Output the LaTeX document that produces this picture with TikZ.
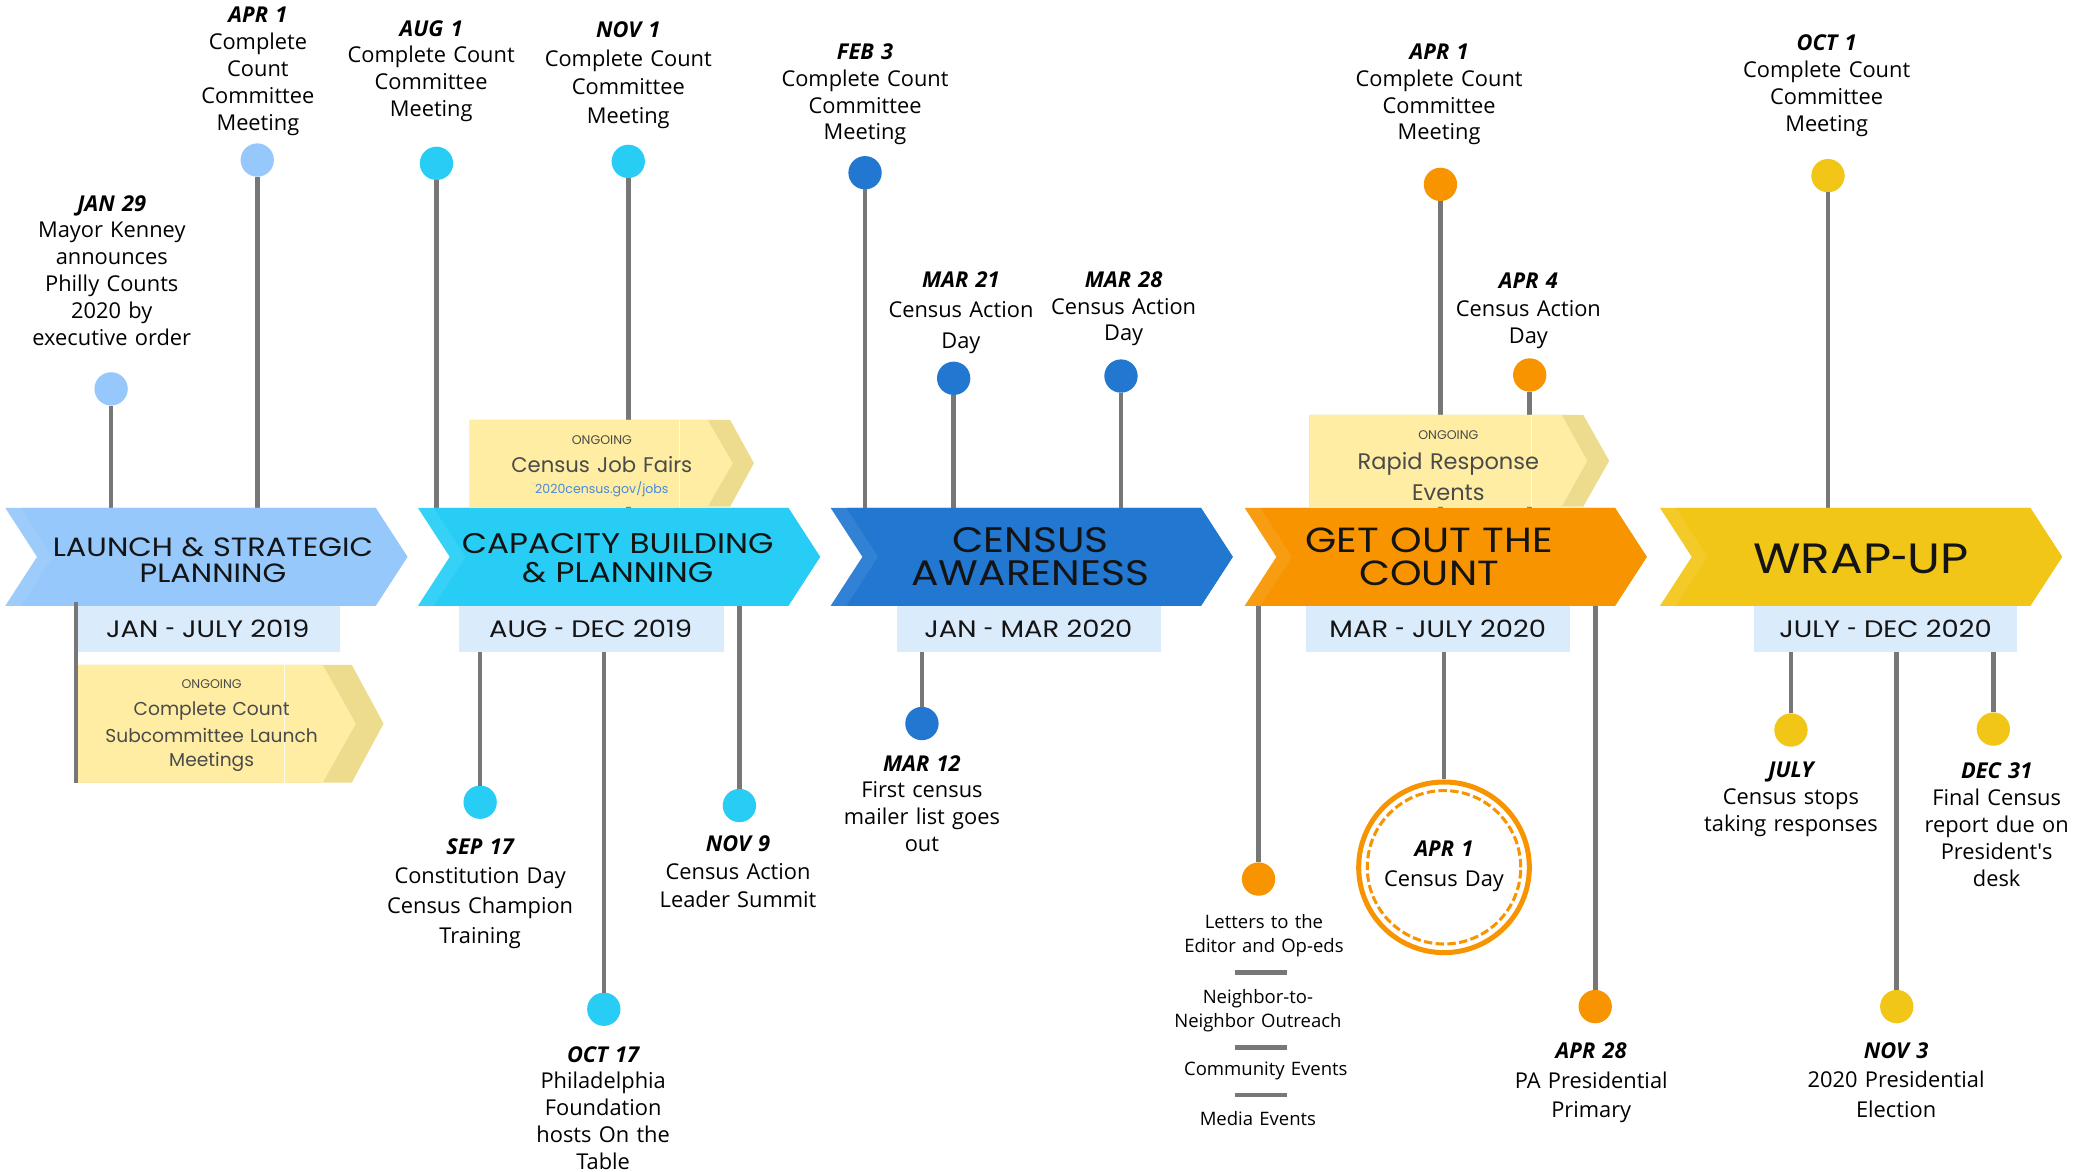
\documentclass[tikz,border=0pt]{standalone}
\usepackage{fontspec}
\setmainfont{Open Sans}
\newfontfamily\popfont{Poppins}
\newfontfamily\popwide{Poppins}[FakeStretch=1.15]
\definecolor{cLight}{HTML}{96C8FB}
\definecolor{cCyan}{HTML}{27CDF5}
\definecolor{cBlue}{HTML}{2277D1}
\definecolor{cOrange}{HTML}{F79400}
\definecolor{cYellow}{HTML}{F2C617}
\definecolor{cDate}{HTML}{DAEBFC}
\definecolor{cOngo}{HTML}{FEEDA2}
\definecolor{cOngoDark}{HTML}{EEDC8E}
\definecolor{cStem}{HTML}{777777}
\definecolor{cOngoText}{HTML}{4A4A4A}
\definecolor{cLink}{HTML}{4A8ADB}
\newcommand\evdate[1]{{\bfseries\itshape #1}\\}
\newcommand\shyph{\scalebox{0.62}[1]{-}}
\newcommand\bannershape[2]{%
  \fill[#2!93!white] (#1,384) -- (#1+280,384) -- (#1+304,421) -- (#1+280,458) -- (#1,458) -- (#1+24,421) -- cycle;
  \fill[#2] (#1+12,384) -- (#1+280,384) -- (#1+304,421) -- (#1+280,458) -- (#1+12,458) -- (#1+36,421) -- cycle;}
% ongoing box: L, T, B, M, light top-right, light tip, dark top-right, dark tip, seam
\newcommand\ongoingbox[9]{%
  \fill[cOngoDark] (#1,#2) -- (#7,#2) -- (#8,#4) -- (#7,#3) -- (#1,#3) -- cycle;
  \fill[cOngo] (#1,#2) -- (#5,#2) -- (#6,#4) -- (#5,#3) -- (#1,#3) -- cycle;
  \draw[white, opacity=0.8, line width=0.7pt] (#9,#2) -- (#9,#3);}
\tikzset{
  stem/.style={draw=cStem, line width=3.5pt},
  dot/.style={circle, fill=#1, minimum size=25.2pt, inner sep=0pt, outer sep=0pt},
  evl/.style={align=center, text width=240pt, anchor=base, inner sep=0pt, text=black,
              font={\fontsize{16.5}{#1}\selectfont}},
  evl/.default=20.3,
  smalll/.style={align=center, text width=200pt, anchor=base, inner sep=0pt, text=black,
              font={\fontsize{14}{18.2}\selectfont}},
  bantext/.style={align=center, text width=320pt, anchor=base, inner sep=0pt, text=black!92,
              font={\popwide\fontsize{#1}{#1}\selectfont}},
  datetext/.style={anchor=base, inner sep=0pt, text=black!92, font={\popwide\fontsize{18}{18}\selectfont}},
  ongsmall/.style={anchor=base, inner sep=0pt, text=cOngoText, font={\popfont\fontsize{9.5}{10}\selectfont}},
  ongbig/.style={align=center, text width=220pt, anchor=base, inner sep=0pt, text=cOngoText,
              font={\popfont\fontsize{#1}{#1}\selectfont}},
}
\begin{document}
\begin{tikzpicture}[x=1pt,y=-1pt]
\useasboundingbox (0,0) rectangle (1568,886);
\fill[white] (0,0) rectangle (1568,886);

% ---------- dots ----------
\node[dot=cLight]  (d-jan29)  at (84,294) {};
\node[dot=cLight]  (d-apr1a)  at (194.5,121) {};
\node[dot=cCyan]   (d-aug1)   at (330,123.5) {};
\node[dot=cCyan]   (d-nov1)   at (475,122) {};
\node[dot=cBlue]   (d-feb3)   at (654,130.6) {};
\node[dot=cBlue]   (d-mar21)  at (721,286) {};
\node[dot=cBlue]   (d-mar28)  at (847.5,284.3) {};
\node[dot=cOrange] (d-apr1b)  at (1089,139.4) {};
\node[dot=cOrange] (d-apr4)   at (1156.5,283.5) {};
\node[dot=cYellow] (d-oct1)   at (1382,132.8) {};
\node[dot=cCyan]   (d-sep17)  at (363,606.5) {};
\node[dot=cCyan]   (d-oct17)  at (456.5,763) {};
\node[dot=cCyan]   (d-nov9)   at (559,609) {};
\node[dot=cBlue]   (d-mar12)  at (697,547) {};
\node[dot=cOrange] (d-letters) at (951.5,664.6) {};
\node[dot=cOrange] (d-apr28)  at (1206,761) {};
\node[dot=cYellow] (d-july)   at (1354,551.9) {};
\node[dot=cYellow] (d-nov3)   at (1434,761) {};
\node[dot=cYellow] (d-dec31)  at (1507,551.2) {};

% ---------- stem end points ----------
\coordinate (e-jan29) at (84,386);
\coordinate (e-apr1a) at (194.5,386);
\coordinate (e-aug1)  at (330,386);
\coordinate (e-nov1)  at (475,386);
\coordinate (e-feb3)  at (654,386);
\coordinate (e-mar21) at (721,386);
\coordinate (e-mar28) at (847.5,386);
\coordinate (e-apr1b) at (1089,386);
\coordinate (e-apr4)  at (1156.5,386);
\coordinate (e-oct1)  at (1382,386);
\coordinate (e-sep17) at (363,490);
\coordinate (e-oct17) at (456.5,490);
\coordinate (e-nov9)  at (559,456);
\coordinate (e-mar12) at (697,490);
\coordinate (e-letters) at (951.5,456);
\coordinate (e-cday)  at (1091.7,490);
\coordinate (e-apr28) at (1206,456);
\coordinate (e-july)  at (1354,490);
\coordinate (e-nov3)  at (1434,490);
\coordinate (e-dec31) at (1507,456);

% ---------- Census Day circle ----------
\node[circle, draw=cOrange, line width=3.8pt, minimum size=129pt, inner sep=0pt] (cday) at (1091.7,655.7) {};
\node[circle, draw=cOrange, line width=2.3pt, dash pattern=on 6.3pt off 2.6pt, minimum size=116pt, inner sep=0pt] (cday-in) at (1091.7,655.7) {};

% ---------- stems ----------
\foreach \n in {jan29,apr1a,aug1,nov1,feb3,mar21,mar28,apr1b,apr4,oct1,sep17,oct17,nov9,mar12,letters,apr28,july,nov3,dec31}
  \draw[stem] (d-\n) -- (e-\n);
\draw[stem] (e-cday) -- (cday.north);

% ---------- banners ----------
\bannershape{4}{cLight}
\bannershape{316}{cCyan}
\bannershape{628}{cBlue}
\bannershape{941}{cOrange}
\bannershape{1255}{cYellow}

\node[bantext=20] (b1) at (161,420.8) {LAUNCH \& STRATEGIC\\[-0.5pt]PLANNING};
\node[bantext=21.5] (b2) at (467,418.6) {CAPACITY BUILDING\\[0pt]\& PLANNING};
\node[bantext=26.8] (b3) at (779,417.8) {CENSUS\\[-1.6pt]AWARENESS};
\node[bantext=26.4] (b4) at (1080.5,417.8) {GET OUT THE\\[-1.2pt]COUNT};
\node[bantext=32] (b5) at (1407,433.4) {WRAP\shyph UP};

% ---------- date boxes ----------
\fill[cDate] (59,458.5) rectangle (257,493);
\fill[cDate] (347,458.5) rectangle (547,493);
\fill[cDate] (678,458.5) rectangle (878,493);
\fill[cDate] (987,458.5) rectangle (1187,493);
\fill[cDate] (1326,458.5) rectangle (1525,493);
\node[datetext] (t1) at (157,481.9) {JAN \shyph{} JULY 2019};
\node[datetext] (t2) at (446.5,481.9) {AUG \shyph{} DEC 2019};
\node[datetext] (t3) at (777.5,481.9) {JAN \shyph{} MAR 2020};
\node[datetext] (t4) at (1087,481.9) {MAR \shyph{} JULY 2020};
\node[datetext] (t5) at (1425.5,481.9) {JULY \shyph{} DEC 2020};

% ---------- ongoing boxes ----------
\ongoingbox{59}{502.7}{591.6}{547.1}{244}{269}{266}{290}{215}
\ongoingbox{355}{317.5}{383}{350.2}{535}{554}{552}{570}{514}
\ongoingbox{990}{313.7}{383}{348.4}{1180.7}{1200}{1197}{1216.6}{1158}
\coordinate (ongA-top) at (57.5,455);
\coordinate (ongA-bot) at (57.5,591.6);
\draw[stem] (ongA-top) -- (ongA-bot);

\node[ongsmall] (oA0) at (160,520.4) {ONGOING};
\node[ongbig=14.1] (oA1) at (160,541) {Complete Count\\[4.6pt]Subcommittee Launch\\[4.6pt]Meetings};
\node[ongsmall] (oB0) at (455,336) {ONGOING};
\node[ongbig=16] (oB1) at (455,357) {Census Job Fairs};
\node[anchor=base, inner sep=0pt, text=cLink, font={\popfont\fontsize{9.5}{10}\selectfont}] (oB2) at (455,373.4) {2020census.gov/jobs};
\node[ongsmall] (oC0) at (1095,332.4) {ONGOING};
\node[ongbig=17] (oC1) at (1095,355) {Rapid Response\\[6.5pt]Events};

% ---------- event labels ----------
\node[evl] (l-jan29) at (84.5,159.6) {\evdate{JAN 29}Mayor Kenney\\announces\\Philly Counts\\2020 by\\executive order};
\node[evl] (l-apr1a) at (195,17.2) {\evdate{APR 1}Complete\\Count\\Committee\\Meeting};
\node[evl] (l-aug1) at (326,27.3) {\evdate{AUG 1}Complete Count\\Committee\\Meeting};
\node[evl=21.5] (l-nov1) at (475,28.6) {\evdate{NOV 1}Complete Count\\Committee\\Meeting};
\node[evl] (l-feb3) at (654,44.9) {\evdate{FEB 3}Complete Count\\Committee\\Meeting};
\node[evl=22.8] (l-mar21) at (726.5,217.6) {\evdate{MAR 21}Census Action\\Day};
\node[evl] (l-mar28) at (849.5,217.1) {\evdate{MAR 28}Census Action\\Day};
\node[evl] (l-apr1b) at (1088,44.9) {\evdate{APR 1}Complete Count\\Committee\\Meeting};
\node[evl=20.8] (l-apr4) at (1155.5,218.3) {\evdate{APR 4}Census Action\\Day};
\node[evl] (l-oct1) at (1381,38.2) {\evdate{OCT 1}Complete Count\\Committee\\Meeting};
\node[evl=22.4] (l-sep17) at (363,645.9) {\evdate{SEP 17}Constitution Day\\Census Champion\\Training};
\node[evl] (l-oct17) at (456,802.9) {\evdate{OCT 17}Philadelphia\\Foundation\\hosts On the\\Table};
\node[evl=21] (l-nov9) at (558,643.9) {\evdate{NOV 9}Census Action\\Leader Summit};
\node[evl] (l-mar12) at (697,582.9) {\evdate{MAR 12}First census\\mailer list goes\\out};
\node[evl=23] (l-cday) at (1091.7,647.3) {\evdate{APR 1}Census Day};
\node[evl=22.5] (l-apr28) at (1203,800.2) {\evdate{APR 28}PA Presidential\\Primary};
\node[evl=22.5] (l-nov3) at (1433.5,799.9) {\evdate{NOV 3}2020 Presidential\\Election};
\node[evl] (l-july) at (1354,587.9) {\evdate{JULY}Census stops\\taking responses};
\node[evl] (l-dec31) at (1509.5,588.9) {\evdate{DEC 31}Final Census\\report due on\\President\textquotesingle s\\desk};

% ---------- outreach list ----------
\node[smalll] (s1) at (955.6,701.8) {Letters to the\\Editor and Op-eds};
\coordinate (dash1a) at (933.7,735); \coordinate (dash1b) at (972.7,735);
\draw[stem] (dash1a) -- (dash1b);
\node[smalll] (s2) at (951,758.5) {Neighbor-to-\\Neighbor Outreach};
\coordinate (dash2a) at (933.7,791.8); \coordinate (dash2b) at (972.7,791.8);
\draw[stem] (dash2a) -- (dash2b);
\node[smalll] (s3) at (957,812.8) {Community Events};
\coordinate (dash3a) at (933.7,827.8); \coordinate (dash3b) at (972.7,827.8);
\draw[stem] (dash3a) -- (dash3b);
\node[smalll] (s4) at (951,851) {Media Events};
\end{tikzpicture}
\end{document}
